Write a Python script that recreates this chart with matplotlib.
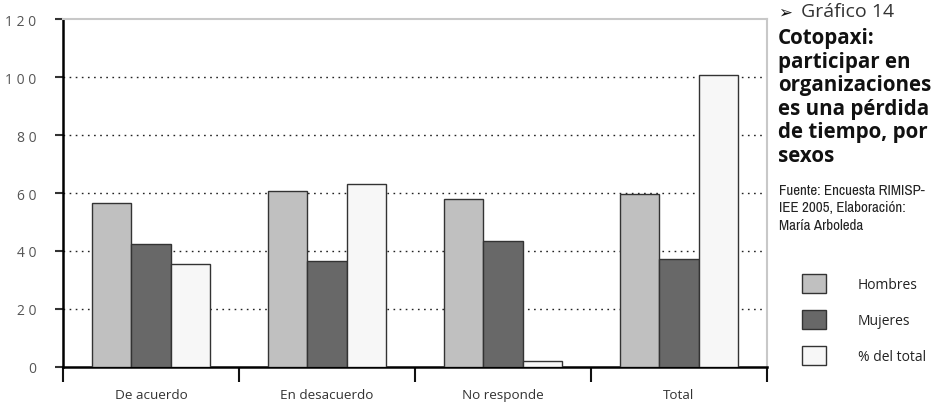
import numpy as np
import matplotlib
matplotlib.use('Agg')
import matplotlib.pyplot as plt
from matplotlib.ticker import FixedLocator, FuncFormatter
from matplotlib import font_manager

categorias = ['De acuerdo', 'En desacuerdo', 'No responde', 'Total']
hombres = [56.5, 60.8, 57.8, 59.8]
mujeres = [42.5, 36.5, 43.3, 37.3]
pct_total = [35.5, 63.2, 1.9, 100.9]
series = ['Hombres', 'Mujeres', '% del total']
colores = ['#c0c0c0', '#686868', '#f7f7f7']

fuente = ['Open Sans', 'DejaVu Sans']
plt.rcParams['font.family'] = fuente

# fuente estrecha para la nota de fuente, si existe
nombres = sorted({f.name for f in font_manager.fontManager.ttflist})
estrecha = [n for n in nombres if 'Narrow' in n or 'Condensed' in n]
if estrecha:
    prop_nota = dict(family=estrecha[0])
else:
    prop_nota = dict(family='DejaVu Sans', fontstretch='condensed')

fig = plt.figure(figsize=(9.44, 4.06), dpi=100)
ax = fig.add_axes([63/944, 38.3/406, 704/944, 347.3/406])

x = np.arange(len(categorias))
w = 0.224
for i, (vals, lab, col) in enumerate(zip([hombres, mujeres, pct_total], series, colores)):
    ax.bar(x + (i - 1) * w, vals, w, color=col, edgecolor='#333333', linewidth=1.0,
           label=lab, zorder=3)

ax.set_xlim(-0.5, 3.5)
ax.set_ylim(0, 120)

# grid punteado
for yv in [20, 40, 60, 80, 100]:
    ax.axhline(yv, color='#222222', linestyle=(0, (1.2, 3.2)), linewidth=1.0, zorder=1)

ax.spines['top'].set_color('#c8c8c8')
ax.spines['right'].set_color('#c8c8c8')
ax.spines['top'].set_linewidth(1.5)
ax.spines['right'].set_linewidth(1.5)
ax.spines['left'].set_linewidth(1.8)
ax.spines['bottom'].set_linewidth(1.8)

ax.yaxis.set_major_locator(FixedLocator([0, 20, 40, 60, 80, 100, 120]))
ax.yaxis.set_major_formatter(FuncFormatter(lambda v, p: ' '.join(str(int(v)))))
ax.tick_params(axis='y', length=6, width=1.5, color='#333333', pad=13,
               labelsize=10, labelcolor='#555555')

ax.set_xticks(x)
ax.set_xticklabels(categorias)
ax.tick_params(axis='x', which='major', length=0, pad=15, labelsize=9.7, labelcolor='#333333')
ax.xaxis.set_minor_locator(FixedLocator([-0.5, 0.5, 1.5, 2.5, 3.5]))
ax.tick_params(axis='x', which='minor', direction='out', length=11, width=1.5, color='#111111')

# texto lateral
fig.text(778/944, 1 - 13/406, '\u27a2', fontsize=12, color='#111111',
         va='center', ha='left', family='DejaVu Sans')
fig.text(801/944, 1 - 12/406, 'Gráfico 14', fontsize=14, color='#333333',
         va='center', ha='left')
fig.text(778/944, 1 - 28/406,
         'Cotopaxi:\nparticipar en\norganizaciones\nes una pérdida\nde tiempo, por\nsexos',
         fontsize=14.8, fontweight='bold', color='#111111', va='top', ha='left',
         linespacing=1.16)
fig.text(779/944, 1 - 184/406, 'Fuente: Encuesta RIMISP-\nIEE 2005, Elaboración:\nMaría Arboleda',
         fontsize=10.8, color='#222222', va='top', ha='left', linespacing=1.3, **prop_nota)

ax.legend(loc='upper left', bbox_to_anchor=(802/944, 1 - 275/406), bbox_transform=fig.transFigure,
          frameon=False, fontsize=10, handlelength=1.75, handleheight=1.75,
          handletextpad=2.25, labelspacing=1.2, borderpad=0, borderaxespad=0,
          labelcolor='#222222')

fig.savefig('out.png', dpi=100)
